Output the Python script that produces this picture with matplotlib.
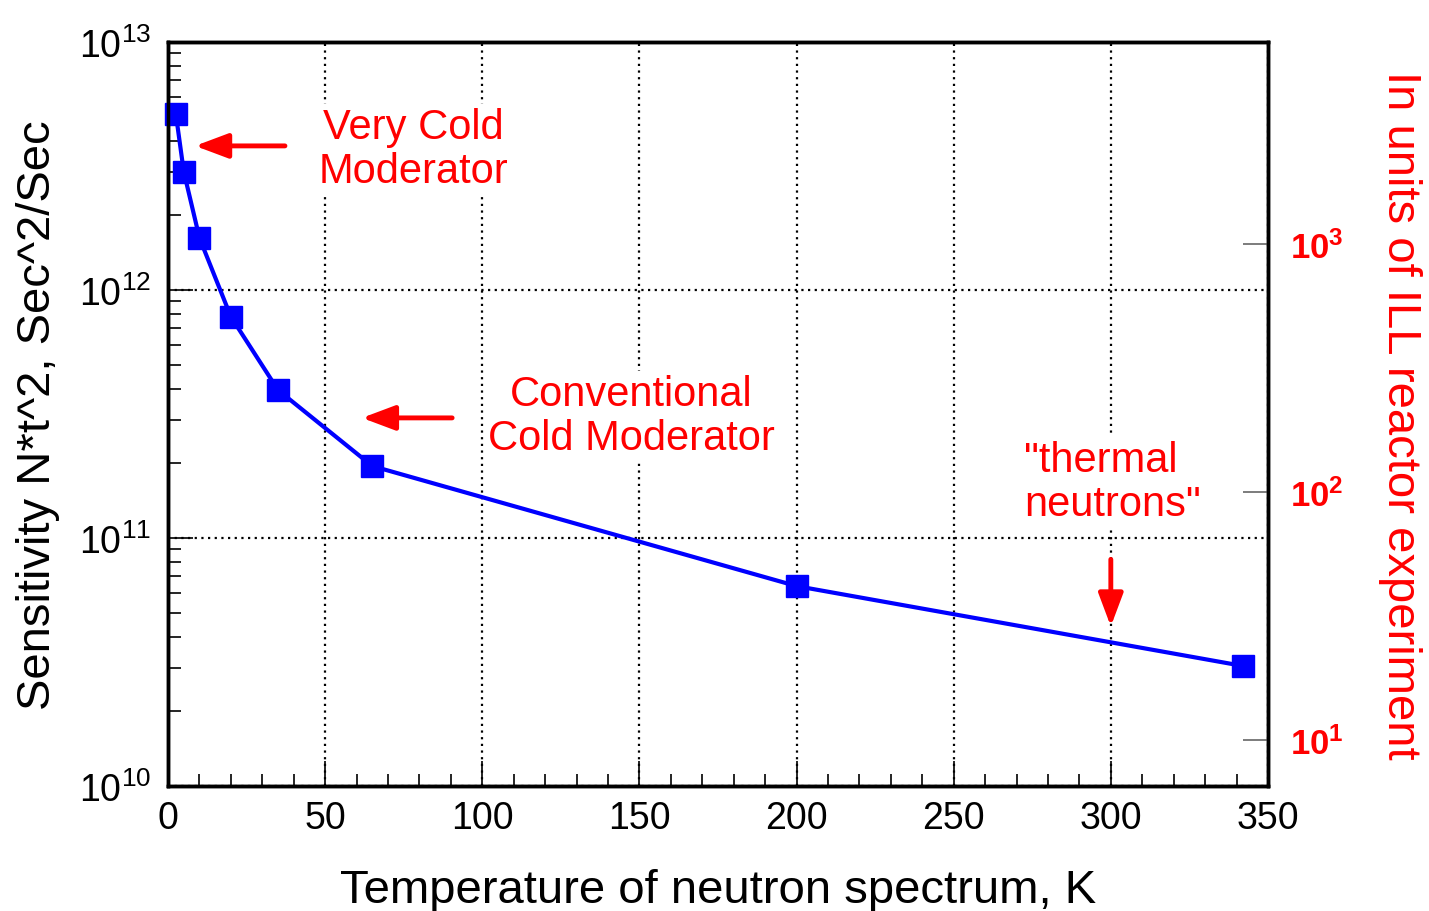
import math
import matplotlib
matplotlib.use("Agg")
import matplotlib.pyplot as plt
from matplotlib.ticker import FixedLocator, LogLocator, NullFormatter, MultipleLocator, FuncFormatter

plt.rcParams['font.family'] = ['Liberation Sans', 'DejaVu Sans']
plt.rcParams['mathtext.fontset'] = 'custom'
plt.rcParams['mathtext.rm'] = 'Liberation Sans'
plt.rcParams['mathtext.bf'] = 'Liberation Sans:bold'

# data
temperature = [2.5, 5, 10, 20, 35, 65, 200, 342]
sensitivity = [5.1e12, 3.0e12, 1.62e12, 7.8e11, 3.95e11, 1.95e11, 6.4e10, 3.05e10]
ill_unit = 1.53e9   # sensitivity of the ILL reactor experiment

x_ticks = [0, 50, 100, 150, 200, 250, 300, 350]
y_ticks = [1e10, 1e11, 1e12, 1e13]
right_ticks = [1e1, 1e2, 1e3]

red = '#ff0000'
blue = '#0000ff'

fig = plt.figure(figsize=(14.29, 9.12), dpi=100)
ax = fig.add_axes([0.1176, 0.137, 0.7697, 0.8159])

ax.plot(temperature, sensitivity, color=blue, lw=3, marker='s', ms=16.5,
        mec=blue, mfc=blue, zorder=5, clip_on=False)

ax.set_yscale('log')
ax.set_xlim(0, 350)
ax.set_ylim(1e10, 1e13)

ax.xaxis.set_major_locator(FixedLocator(x_ticks))
ax.xaxis.set_minor_locator(MultipleLocator(10))
ax.yaxis.set_major_locator(FixedLocator(y_ticks))
ax.yaxis.set_minor_locator(LogLocator(base=10, subs=range(2, 10)))
ax.yaxis.set_minor_formatter(NullFormatter())
ax.yaxis.set_major_formatter(FuncFormatter(
    lambda v, p: r'$\mathregular{10^{%d}}$' % round(math.log10(v))))

ax.tick_params(axis='both', which='major', direction='in', length=18, width=1.2,
               labelsize=27, top=False, right=False, pad=10)
ax.tick_params(axis='both', which='minor', direction='in', length=9, width=1.2,
               top=False, right=False)
ax.tick_params(axis='y', which='major', pad=12)

ax.grid(True, which='major', color='black', linestyle=(0, (1, 2)), linewidth=1.6)
for s in ax.spines.values():
    s.set_linewidth(2.5)

ax.set_xlabel('Temperature of neutron spectrum, K', fontsize=34, labelpad=23)
ax.set_ylabel('Sensitivity N*t^2, Sec^2/Sec', fontsize=34, labelpad=14)

# right axis in units of the ILL experiment
ax2 = ax.twinx()
ax2.set_yscale('log')
ax2.set_ylim(1e10 / ill_unit, 1e13 / ill_unit)
ax2.yaxis.set_major_locator(FixedLocator(right_ticks))
ax2.yaxis.set_minor_locator(FixedLocator([]))
ax2.yaxis.set_major_formatter(FuncFormatter(
    lambda v, p: r'$\mathbf{10^{%d}}$' % round(math.log10(v))))
ax2.tick_params(axis='y', which='major', direction='in', length=18, width=1.2,
                color='#666666', labelcolor=red, labelsize=25, pad=16)
for s in ax2.spines.values():
    s.set_linewidth(2.5)
ax2.set_ylabel('In units of ILL reactor experiment', fontsize=34, color=red,
               rotation=270, labelpad=56)

box = dict(facecolor='white', edgecolor='none', pad=2)
ax.text(78, 3.7e12, 'Very Cold\nModerator', fontsize=30, color=red,
        ha='center', va='center', linespacing=1.15, bbox=box, zorder=6)
ax.text(147.5, 3.1e11, 'Conventional\nCold Moderator', fontsize=30, color=red,
        ha='center', va='center', linespacing=1.15, bbox=box, zorder=6)
ax.text(272.5, 1.68e11, '"thermal\nneutrons"', fontsize=30, color=red,
        ha='left', va='center', linespacing=1.15, bbox=box, zorder=6)

arrow = dict(arrowstyle='-|>,head_length=2.0,head_width=0.75', color=red, lw=3.5,
             shrinkA=0, shrinkB=0)
ax.annotate('', xy=(8.6, 3.81e12), xytext=(37.2, 3.81e12), arrowprops=arrow, zorder=7)
ax.annotate('', xy=(61.7, 3.05e11), xytext=(90.4, 3.05e11), arrowprops=arrow, zorder=7)
ax.annotate('', xy=(300, 4.4e10), xytext=(300, 8.2e10), arrowprops=arrow, zorder=7)

fig.savefig('out.png', dpi=100)
